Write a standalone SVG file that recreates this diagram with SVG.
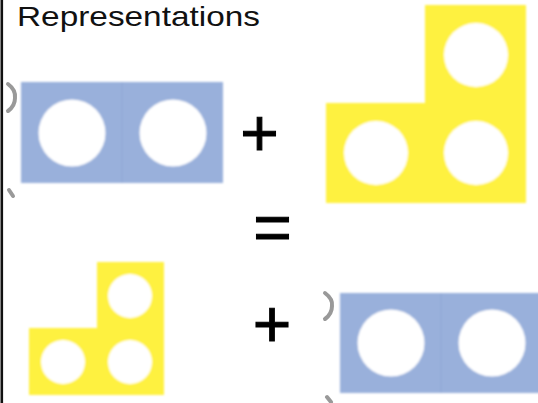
<svg xmlns="http://www.w3.org/2000/svg" width="538" height="403" viewBox="0 0 538 403">
  <defs>
    <filter id="soft" x="-5%" y="-5%" width="110%" height="110%">
      <feGaussianBlur stdDeviation="1.2"/>
    </filter>
  </defs>
  <style>
    .title { font-family: "Liberation Sans", Arial, sans-serif; font-size: 28px; fill: #111; }
    .op { font-family: "Liberation Sans", Arial, sans-serif; font-size: 66px; fill: #000; stroke: #000; stroke-width: 1; text-anchor: middle; }
    .blue { fill: #99B0DB; }
    .divider { stroke: #8FA7D5; stroke-width: 1; }
    .yellow { fill: #FEF141; }
    .hole { fill: #FFFFFF; }
    .crop { fill: none; stroke: #999999; stroke-width: 4; stroke-linecap: round; }
  </style>

  <rect width="538" height="403" fill="#FFFFFF"/>

  <!-- frame edge on the left -->
  <line x1="1.8" y1="0" x2="1.8" y2="403" stroke="#111" stroke-width="2.6"/>

  <text class="title" x="17" y="26" textLength="243" lengthAdjust="spacingAndGlyphs">Representations</text>

  <!-- two-cell blue tile, top -->
  <g id="blue-tile-top">
    <path class="crop" d="M8,84 Q16,90 15,98 Q15,106 8,111"/>
    <path class="crop" d="M9,190 L13,196"/>
    <g filter="url(#soft)">
      <rect class="blue" x="21" y="82" width="202" height="101"/>
      <line class="divider" x1="122" y1="82" x2="122" y2="183"/>
      <circle class="hole" cx="72" cy="133" r="33.5"/>
      <circle class="hole" cx="173" cy="133" r="33.5"/>
    </g>
  </g>

  <g id="plus-top">
    <text class="op" x="259.5" y="156">+</text>
  </g>

  <!-- three-cell yellow L tile, top -->
  <g id="yellow-tile-top">
    <g filter="url(#soft)">
      <path class="yellow" d="M425,5 H526 V203 H326 V103 H425 Z"/>
      <circle class="hole" cx="476" cy="55" r="32"/>
      <circle class="hole" cx="376" cy="153" r="32"/>
      <circle class="hole" cx="476" cy="153" r="32"/>
    </g>
  </g>

  <g id="equals">
    <text class="op" x="272.5" y="250">=</text>
  </g>

  <!-- three-cell yellow L tile, bottom (smaller) -->
  <g id="yellow-tile-bottom">
    <g filter="url(#soft)">
      <path class="yellow" d="M97,262 H164 V395 H29 V328 H97 Z"/>
      <circle class="hole" cx="130" cy="296" r="22"/>
      <circle class="hole" cx="63" cy="362" r="22"/>
      <circle class="hole" cx="130" cy="362" r="22"/>
    </g>
  </g>

  <g id="plus-bottom">
    <text class="op" x="272" y="347">+</text>
  </g>

  <!-- two-cell blue tile, bottom -->
  <g id="blue-tile-bottom">
    <path class="crop" d="M325,293 Q333,299 332,306 Q332,314 325,319"/>
    <path class="crop" d="M327,397 L331,402"/>
    <g filter="url(#soft)">
      <rect class="blue" x="340" y="293" width="202" height="100"/>
      <line class="divider" x1="441" y1="293" x2="441" y2="393"/>
      <circle class="hole" cx="391" cy="343" r="33.5"/>
      <circle class="hole" cx="492" cy="343" r="33.5"/>
    </g>
  </g>

  <g id="connectors"/>
</svg>
